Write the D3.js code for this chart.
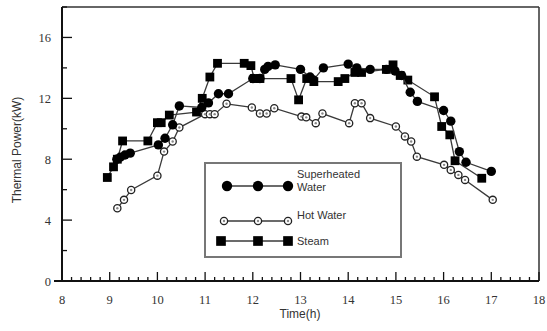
<!DOCTYPE html>
<html><head><meta charset="utf-8">
<script src="https://cdn.jsdelivr.net/npm/d3@7"></script>
<style>body{margin:0;background:#fff}svg{display:block}</style>
</head><body>
<svg id="c" width="547" height="331"></svg>
<script>
const xTicks = [8,9,10,11,12,13,14,15,16,17,18];
const yTicks = [0,4,8,12,16];
const seriesNames = ["Superheated", "Hot Water", "Steam"];

const superT = [9.15,9.22,9.32,9.43,10.02,10.16,10.32,10.46,10.93,11.07,11.28,11.49,12.0,12.15,12.25,12.32,12.47,13.0,13.2,13.27,13.48,14.0,14.18,14.46,14.8,14.98,15.12,15.3,15.45,16.0,16.15,16.33,16.47,17.0];
const superV = [8.0,8.13,8.28,8.4,8.94,9.38,10.26,11.5,11.4,11.7,12.3,12.3,13.3,13.3,13.9,14.1,14.2,13.9,13.4,13.2,14.0,14.25,14.0,13.9,13.9,13.8,13.5,12.4,11.8,11.2,10.5,8.5,7.8,7.2];

const hotT = [9.16,9.3,9.45,10.0,10.14,10.32,10.46,11.0,11.1,11.2,11.45,11.98,12.15,12.29,12.45,13.02,13.12,13.32,13.46,14.02,14.14,14.28,14.46,15.0,15.19,15.32,15.44,16.01,16.15,16.31,16.45,17.03];
const hotV = [4.78,5.33,5.98,6.92,8.5,9.16,10.08,10.96,10.96,10.96,11.64,11.4,11.0,11.0,11.35,10.8,10.75,10.37,11.0,10.37,11.68,11.68,10.7,10.15,9.5,9.16,8.17,7.63,7.3,6.97,6.64,5.33];

const steamT = [8.95,9.08,9.16,9.27,9.8,10.0,10.08,10.25,10.82,10.94,11.1,11.26,11.82,11.96,12.03,12.15,12.8,12.96,13.13,13.28,13.79,13.93,14.14,14.28,14.8,14.94,15.09,15.25,15.81,15.96,16.13,16.24,16.8];
const steamV = [6.8,7.5,8.0,9.2,9.2,10.4,10.4,10.9,11.1,12.0,13.4,14.3,14.3,14.15,13.3,13.3,13.3,11.9,13.3,13.1,13.1,13.3,13.7,13.7,13.9,14.2,13.5,13.2,12.1,10.15,9.6,7.9,6.75];

const svg = d3.select("#c");
const x = d3.scaleLinear().domain([8,18]).range([62,539]);
const y = d3.scaleLinear().domain([0,18]).range([281,7]);

// frame
svg.append("line").attr("x1",62).attr("x2",539).attr("y1",y(18)).attr("y2",y(18)).attr("stroke","#333").attr("stroke-width",1.5);
svg.append("line").attr("x1",539).attr("x2",539).attr("y1",y(18)).attr("y2",281).attr("stroke","#333").attr("stroke-width",1.5);

// x axis
const minorX = d3.range(8,18.001,0.2);
svg.append("g").selectAll("line").data(minorX).join("line")
  .attr("x1",d=>x(d)).attr("x2",d=>x(d))
  .attr("y1",281).attr("y2",d=>Math.abs(d-Math.round(d))<1e-6?272:277)
  .attr("stroke","#111").attr("stroke-width",1.3);
svg.append("line").attr("x1",54).attr("x2",539).attr("y1",281).attr("y2",281).attr("stroke","#111").attr("stroke-width",2);
svg.append("g").selectAll("text").data(xTicks).join("text")
  .attr("x",d=>x(d)).attr("y",304).attr("text-anchor","middle")
  .attr("font-family","Liberation Serif, Times New Roman, serif").attr("font-size",12.5).attr("fill","#333")
  .text(d=>d);
svg.append("text").attr("x",300).attr("y",318).attr("text-anchor","middle")
  .attr("font-family","Liberation Sans, Arial, sans-serif").attr("font-size",12).attr("fill","#333").text("Time(h)");

// y axis
const minorY = d3.range(0,18.001,2);
svg.append("g").selectAll("line").data(minorY).join("line")
  .attr("y1",d=>y(d)).attr("y2",d=>y(d))
  .attr("x1",62).attr("x2",d=>d%4===0?72:67)
  .attr("stroke","#111").attr("stroke-width",1.3);
svg.append("line").attr("x1",56).attr("x2",62).attr("y1",281).attr("y2",281).attr("stroke","#111").attr("stroke-width",1.3);
svg.append("line").attr("x1",62).attr("x2",62).attr("y1",y(18)).attr("y2",282).attr("stroke","#111").attr("stroke-width",2);
svg.append("g").selectAll("text").data(yTicks).join("text")
  .attr("x",51).attr("y",d=>y(d)+4.5).attr("text-anchor","end")
  .attr("font-family","Liberation Serif, Times New Roman, serif").attr("font-size",12.5).attr("fill","#333")
  .text(d=>d);
svg.append("text").attr("transform","translate(21,150) rotate(-90)").attr("text-anchor","middle")
  .attr("font-family","Liberation Sans, Arial, sans-serif").attr("font-size",12).attr("fill","#333").text("Thermal Power(kW)");

const line = d3.line().x(d=>x(d[0])).y(d=>y(d[1]));
function draw(ts, vs, kind){
  const pts = ts.map((t,i)=>[t,vs[i]]);
  svg.append("path").datum(pts).attr("d",line).attr("fill","none").attr("stroke","#3a3a3a").attr("stroke-width",1.3);
  marker(svg, pts.map(p=>[x(p[0]),y(p[1])]), kind, 1);
}
function marker(g, xy, kind, k){
  const s = g.append("g");
  if(kind==="sq"){
    const h = 4.4*k;
    s.selectAll("rect").data(xy).join("rect").attr("x",d=>d[0]-h).attr("y",d=>d[1]-h).attr("width",2*h).attr("height",2*h).attr("fill","#000");
  } else if(kind==="fc"){
    s.selectAll("circle").data(xy).join("circle").attr("cx",d=>d[0]).attr("cy",d=>d[1]).attr("r",4.7*k).attr("fill","#000");
  } else {
    s.selectAll("circle.o").data(xy).join("circle").attr("class","o").attr("cx",d=>d[0]).attr("cy",d=>d[1]).attr("r",3.6).attr("fill","#fff").attr("stroke","#222").attr("stroke-width",1.3);
    s.selectAll("circle.i").data(xy).join("circle").attr("class","i").attr("cx",d=>d[0]).attr("cy",d=>d[1]).attr("r",1.2).attr("fill","#888");
  }
}
draw(hotT, hotV, "oc");
draw(steamT, steamV, "sq");
draw(superT, superV, "fc");

// legend
const lg = svg.append("g");
lg.append("rect").attr("x",205).attr("y",163).attr("width",196).attr("height",94).attr("fill","#fff").attr("stroke","#777").attr("stroke-width",2);
const legendRows = [
  {kind:"fc", y:186, xs:[227,258,288], label:["Superheated","Water"], ty:178},
  {kind:"oc", y:221, xs:[224,258,288], label:["Hot Water"], ty:219},
  {kind:"sq", y:241, xs:[221,258,288], label:["Steam"], ty:245}
];
legendRows.forEach(r=>{
  lg.append("line").attr("x1",r.xs[0]).attr("x2",r.xs[2]).attr("y1",r.y).attr("y2",r.y).attr("stroke","#3a3a3a").attr("stroke-width",1.3);
  marker(lg, r.xs.map(v=>[v,r.y]), r.kind, 1.1);
  r.label.forEach((t,i)=>{
    lg.append("text").attr("x",297).attr("y",r.ty+i*13).attr("font-family","Liberation Sans, Arial, sans-serif")
      .attr("font-size",11).attr("fill","#333").text(t);
  });
});
</script>
</body></html>
